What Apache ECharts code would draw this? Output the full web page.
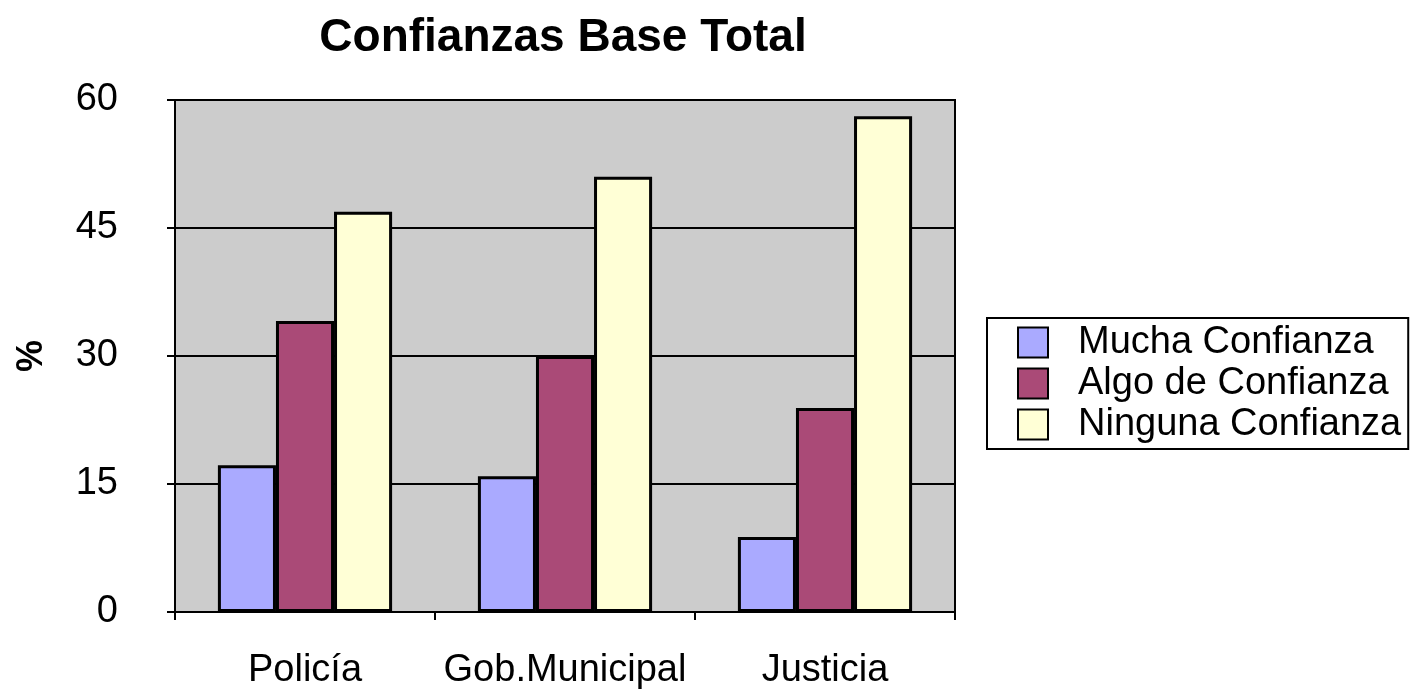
<!DOCTYPE html>
<html>
<head>
<meta charset="utf-8">
<script src="https://cdn.jsdelivr.net/npm/echarts@6/dist/echarts.min.js"></script>
<style>
  html, body { margin: 0; padding: 0; background: #fff; }
  #chart { width: 1422px; height: 690px; }
</style>
</head>
<body>
<div id="chart"></div>
<script>
// datos
const categorias = ['Policía', 'Gob.Municipal', 'Justicia']
const mucha = [17.2, 15.9, 8.8]
const algo = [34.1, 30.0, 23.9]
const ninguna = [46.9, 51.0, 58.1]
const nombres = ['Mucha Confianza', 'Algo de Confianza', 'Ninguna Confianza']
const colores = ['#AAAAFF', '#AA4A77', '#FFFFD6']

const chart = echarts.init(document.getElementById('chart'))
const font = 'Liberation Sans, Arial, sans-serif'

const barra = (name, data, color) => ({
  name,
  type: 'bar',
  data,
  barGap: '0%',
  barCategoryGap: '33%',
  itemStyle: { color, borderColor: '#000', borderWidth: 3 }
})

chart.setOption({
  animation: false,
  textStyle: { fontFamily: font },
  title: {
    text: 'Confianzas Base Total',
    left: 558,
    textAlign: 'center',
    top: 10,
    textStyle: { fontSize: 46, fontWeight: 'bold', color: '#000', fontFamily: font }
  },
  legend: {
    orient: 'vertical',
    left: 987,
    top: 318,
    itemWidth: 30,
    itemHeight: 30,
    itemGap: 0,
    icon: 'rect',
    padding: [4, 7, 4, 30],
    borderColor: '#000',
    borderWidth: 2,
    textStyle: { fontSize: 38, lineHeight: 41, color: '#000', fontFamily: font, padding: [0, 0, 0, 25] }
  },
  grid: {
    left: 175,
    right: 467,
    top: 100,
    bottom: 78,
    outerBoundsMode: 'none',
    containLabel: false,
    show: true,
    backgroundColor: '#CCCCCC',
    borderColor: '#000',
    borderWidth: 2
  },
  xAxis: {
    type: 'category',
    data: categorias,
    axisLine: { lineStyle: { color: '#000', width: 2 } },
    axisTick: { show: true, length: 8, lineStyle: { color: '#000', width: 2 } },
    axisLabel: { fontSize: 38, color: '#000', margin: 40, interval: 0, fontFamily: font }
  },
  yAxis: {
    type: 'value',
    min: 0,
    max: 60,
    interval: 15,
    name: '%',
    nameLocation: 'middle',
    nameGap: 125,
    nameRotate: 90,
    nameTextStyle: { fontSize: 36, fontWeight: 'bold', color: '#000', fontFamily: font },
    axisLine: { show: true, lineStyle: { color: '#000', width: 2 } },
    axisTick: { show: true, length: 8, lineStyle: { color: '#000', width: 2 } },
    axisLabel: { fontSize: 38, color: '#000', margin: 57, fontFamily: font },
    splitLine: { lineStyle: { color: '#000', width: 2 } }
  },
  series: [
    barra(nombres[0], mucha, colores[0]),
    barra(nombres[1], algo, colores[1]),
    barra(nombres[2], ninguna, colores[2])
  ]
})
</script>
</body>
</html>
